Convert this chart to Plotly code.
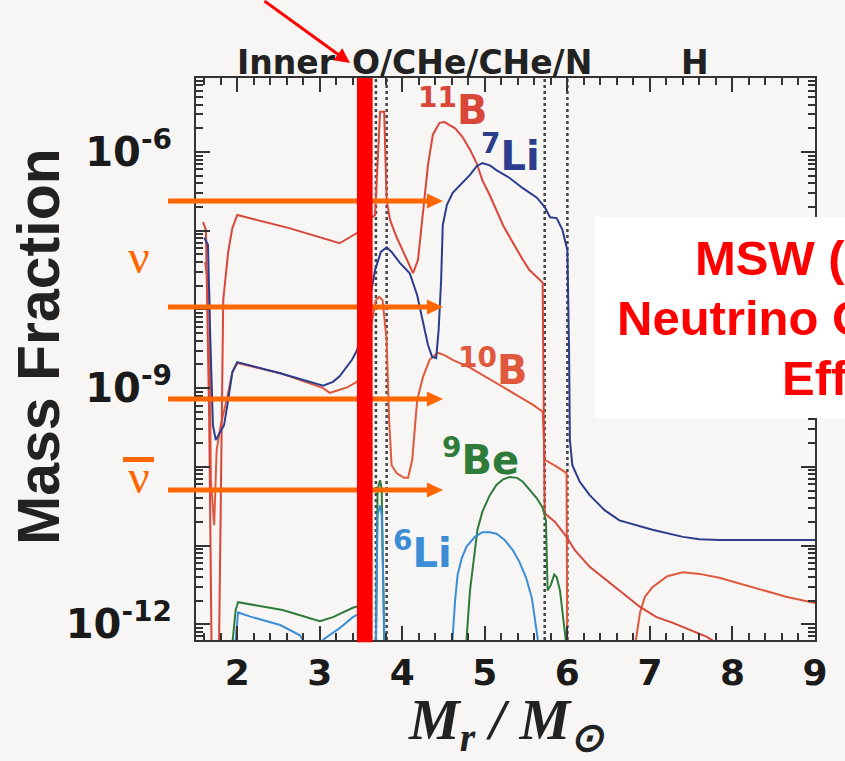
import numpy as np
import plotly.graph_objects as go

# ---- abundance profiles: mass coordinate (M_r / M_sun) and log10 mass fraction ----
b11_m = [1.585, 1.62, 1.66, 1.69, 1.74, 1.77, 1.78, 1.80, 1.83, 1.89,
         1.94, 2.00, 2.64, 3.24, 3.45, 3.56, 3.67, 3.73, 3.78, 3.81,
         3.85, 3.93, 4.05, 4.13, 4.19, 4.22, 4.26, 4.31, 4.37, 4.45,
         4.51, 4.64, 4.73, 4.82, 4.90, 4.97, 5.06, 5.14, 5.22, 5.30,
         5.39, 5.46, 5.54, 5.63, 5.70, 5.725, 5.85, 5.99, 6.09, 6.27,
         6.43, 6.63, 6.88, 7.08, 7.27, 7.48, 7.69, 7.84]
b11_log = [-6.89, -6.99, -9.41, -12.45, -13.0, -12.96, -12.2, -10.17, -7.88, -7.27,
           -6.97, -6.80, -6.97, -7.16, -7.03, -6.89, -6.80, -5.49, -5.49, -6.61,
           -6.86, -7.08, -7.37, -7.54, -7.37, -7.08, -6.61, -6.17, -5.78, -5.63,
           -5.62, -5.70, -5.81, -5.97, -6.14, -6.36, -6.55, -6.74, -6.93, -7.08,
           -7.25, -7.37, -7.50, -7.59, -7.66, -10.59, -10.70, -10.89, -11.06, -11.27,
           -11.40, -11.57, -11.78, -11.91, -11.98, -12.07, -12.16, -12.26]

li7_m = [1.60, 1.645, 1.67, 1.705, 1.74, 1.79, 1.84, 1.89, 1.94, 2.00,
         2.52, 3.04, 3.16, 3.24, 3.33, 3.39, 3.45, 3.56, 3.67, 3.74,
         3.81, 3.87, 3.97, 4.09, 4.18, 4.25, 4.31, 4.36, 4.41, 4.44,
         4.47, 4.49, 4.54, 4.61, 4.73, 4.82, 4.90, 4.97, 5.06, 5.14,
         5.30, 5.46, 5.63, 5.725, 5.79, 5.87, 5.94, 6.00, 6.02, 6.03,
         6.06, 6.15, 6.27, 6.45, 6.63, 7.03, 7.40, 7.60, 7.84, 9.0]
li7_log = [-7.09, -7.18, -8.26, -9.47, -9.66, -9.56, -9.47, -9.15, -8.80, -8.67,
           -8.81, -8.97, -8.92, -8.85, -8.73, -8.64, -8.52, -8.13, -7.50, -7.27,
           -7.21, -7.27, -7.41, -7.54, -7.82, -8.17, -8.45, -8.60, -8.62, -8.26,
           -7.63, -6.93, -6.67, -6.52, -6.39, -6.29, -6.18, -6.14, -6.17, -6.23,
           -6.33, -6.46, -6.58, -6.70, -6.83, -6.84, -6.99, -7.25, -8.52, -9.66,
           -9.98, -10.19, -10.36, -10.55, -10.68, -10.80, -10.89, -10.92, -10.93, -10.93]

b10_m = [1.61, 1.66, 1.68, 1.72, 1.75, 1.80, 1.875, 1.94, 2.00, 2.52,
         3.04, 3.12, 3.24, 3.33, 3.45, 3.51, 3.68, 3.72, 3.76, 3.81,
         3.84, 3.87, 3.93, 4.02, 4.07, 4.12, 4.18, 4.25, 4.33, 4.43,
         4.51, 4.61, 4.82, 5.02, 5.22, 5.42, 5.58, 5.70, 5.725, 5.86,
         5.99, 6.00, 6.79, 6.83, 6.88, 6.94, 7.03, 7.21, 7.40, 7.60,
         7.84, 8.24, 8.65, 9.0]
b10_log = [-7.40, -7.75, -10.17, -10.74, -9.79, -9.47, -9.13, -8.80, -8.68, -8.81,
           -9.00, -9.06, -9.02, -8.99, -8.92, -8.83, -7.88, -7.84, -7.88, -8.39,
           -9.41, -9.98, -10.08, -10.14, -10.14, -9.91, -9.15, -8.86, -8.64, -8.55,
           -8.58, -8.64, -8.74, -8.86, -8.99, -9.11, -9.21, -9.30, -9.91, -9.99,
           -10.08, -12.96, -12.96, -12.2, -11.85, -11.65, -11.53, -11.39, -11.34, -11.36,
           -11.41, -11.53, -11.65, -11.73]

be9_m = [1.92, 1.945, 1.98, 2.01, 2.55, 3.00, 3.16, 3.40, 3.56, 3.64,
         3.68, 3.70, 3.73, 3.75, 3.78, 3.80, 4.74, 4.78, 4.82, 4.87,
         4.91, 4.97, 5.06, 5.14, 5.22, 5.30, 5.39, 5.46, 5.54, 5.63,
         5.70, 5.74, 5.76, 5.80, 5.84, 5.87, 5.91, 5.94, 5.98, 6.00]
be9_log = [-12.96, -12.2, -11.82, -11.72, -11.82, -11.96, -11.91, -11.79, -11.74, -12.96,
           -12.2, -10.29, -10.17, -10.29, -12.2, -12.96, -12.96, -12.16, -11.57, -11.12,
           -10.80, -10.57, -10.36, -10.23, -10.16, -10.13, -10.14, -10.19, -10.29, -10.40,
           -10.52, -10.68, -11.57, -11.50, -11.37, -11.40, -11.57, -11.82, -12.2, -12.96]

li6_m = [1.97, 1.98, 2.01, 2.15, 2.52, 2.76, 2.83, 2.98, 3.06, 3.24,
         3.40, 3.56, 3.64, 3.68, 3.70, 3.73, 3.75, 3.78, 3.80, 4.575,
         4.61, 4.64, 4.67, 4.72, 4.78, 4.88, 4.97, 5.06, 5.14, 5.24,
         5.34, 5.42, 5.50, 5.57, 5.63, 5.66, 5.70]
li6_log = [-12.96, -12.2, -11.85, -11.90, -12.01, -12.14, -12.26, -12.26, -12.18, -12.05,
           -11.91, -11.82, -12.96, -12.2, -10.61, -10.49, -10.61, -12.2, -12.96, -12.96,
           -12.16, -11.69, -11.37, -11.16, -11.01, -10.89, -10.83, -10.83, -10.85, -10.93,
           -11.06, -11.21, -11.41, -11.67, -12.07, -12.33, -12.96]

# shell boundaries and composition-layer names along the top
shell_edges = [3.68, 3.81, 5.725, 6.00]
layer_names = ["Inner", "O/CHe/CHe/N", "H"]
layer_pos = [1.972, 3.364, 7.541]

# axis ticks
x_ticks = [2, 3, 4, 5, 6, 7, 8, 9]
y_decades = [-12, -11, -10, -9, -8, -7, -6, -5]
y_labelled = [-12, -9, -6]

# isotope labels: (text, colour, left edge in M_r, log10 mass fraction)
iso_labels = [
    ("<sup>11</sup>B", "#d9463a", 4.165, -5.43),
    ("<sup>7</sup>Li", "#2b3d8c", 4.93, -6.01),
    ("<sup>10</sup>B", "#e0583d", 4.65, -8.73),
    ("<sup>9</sup>Be", "#2f7b3a", 4.46, -9.88),
    ("<sup>6</sup>Li", "#3b8ed6", 3.86, -11.06),
]

# caption lines on the right-hand panel: text, left edge (px), row centre (px)
msw_lines = ["MSW (Matter)", "Neutrino Oscillation", "Effect"]
msw_left = [693, 615, 780]
msw_rows = [258, 318, 378]

# neutrino-process arrow heights (paper fraction) and the MSW resonance position
arrow_rows = [0.7811, 0.5925, 0.4288, 0.2669]
msw_edges = [3.45, 3.64]

W, H = 845, 761
L, R, T, B = 196, 30, 78, 121
PW, PH = W - L - R, H - T - B


def px(x):
    return (x - L) / PW


def py(y):
    return (H - B - y) / PH


fig = go.Figure()
series = [
    (b10_m, b10_log, "#e0583d"),
    (b11_m, b11_log, "#d9463a"),
    (be9_m, be9_log, "#2f7b3a"),
    (li6_m, li6_log, "#3b8ed6"),
    (li7_m, li7_log, "#2b3d8c"),
]
for m, lg, col in series:
    fig.add_trace(go.Scatter(x=m, y=10 ** np.array(lg), mode="lines",
                             line=dict(color=col, width=2), hoverinfo="skip"))

shapes = []
for e in shell_edges:
    shapes.append(dict(type="line", xref="x", yref="paper", x0=e, x1=e, y0=0, y1=1,
                       line=dict(color="#444444", width=2.5, dash="dot"), layer="below"))

orange = "#ff6600"
tail_x, tip_x, head_len, head_half = px(168), px(443), 16 / PW, 7.5 / PH
for yr in arrow_rows:
    shapes.append(dict(type="line", xref="paper", yref="paper",
                       x0=tail_x, x1=tip_x - head_len + 0.002, y0=yr, y1=yr,
                       line=dict(color=orange, width=5)))
    shapes.append(dict(type="path", xref="paper", yref="paper",
                       path=f"M {tip_x} {yr} L {tip_x - head_len} {yr + head_half} "
                            f"L {tip_x - head_len} {yr - head_half} Z",
                       fillcolor=orange, line=dict(width=0)))

# thick marker of the MSW resonance layer
shapes.append(dict(type="rect", xref="x", yref="paper", x0=msw_edges[0], x1=msw_edges[1],
                   y0=-0.004, y1=1.0, fillcolor="#ff0000", line=dict(width=0)))

# bar over the anti-neutrino symbol
shapes.append(dict(type="line", xref="paper", yref="paper", x0=px(123), x1=px(154),
                   y0=py(459.5), y1=py(459.5), line=dict(color=orange, width=5)))

# white panel behind the MSW caption
shapes.append(dict(type="rect", xref="paper", yref="paper", x0=px(595), x1=1.3,
                   y0=py(418), y1=py(217), fillcolor="white", line=dict(width=0)))

ann = []
dark = "#222222"
for name, pos in zip(layer_names, layer_pos):
    ann.append(dict(x=pos, y=py(63), xref="x", yref="paper", text=name, showarrow=False,
                    xanchor="center" if name == "H" else "left", yanchor="middle",
                    font=dict(family="DejaVu Sans", size=33, color=dark, weight="bold")))

for txt, col, xm, ly in iso_labels:
    ann.append(dict(x=xm, y=ly, xref="x", yref="y", text=txt, showarrow=False,
                    xanchor="left", yanchor="middle",
                    font=dict(family="DejaVu Sans", size=40, color=col, weight="bold")))

ann.append(dict(x=px(39), y=py(347), xref="paper", yref="paper", text="Mass Fraction",
                textangle=-90, showarrow=False, xanchor="center", yanchor="middle",
                font=dict(family="Liberation Sans", size=59, color=dark, weight="bold")))

ann.append(dict(x=px(506), y=py(724), xref="paper", yref="paper",
                text="<i>M<sub>r</sub> / M<sub>⊙</sub></i>", showarrow=False,
                xanchor="center", yanchor="middle",
                font=dict(family="Liberation Serif", size=57, color=dark, weight="bold")))

ann.append(dict(x=px(139), y=py(256), xref="paper", yref="paper", text="ν", showarrow=False,
                xanchor="center", yanchor="middle",
                font=dict(family="Liberation Serif", size=48, color=orange)))
ann.append(dict(x=px(139), y=py(476), xref="paper", yref="paper", text="ν", showarrow=False,
                xanchor="center", yanchor="middle",
                font=dict(family="Liberation Serif", size=48, color=orange)))

ann.append(dict(x=px(350), y=py(63), xref="paper", yref="paper", text="", showarrow=True,
                ax=-87, ay=-63, arrowhead=2, arrowsize=1.0, arrowwidth=3,
                arrowcolor="#ff0000", standoff=0))

for line_txt, left, row in zip(msw_lines, msw_left, msw_rows):
    ann.append(dict(x=px(left), y=py(row), xref="paper", yref="paper",
                    text=line_txt, showarrow=False,
                    xanchor="left", yanchor="middle", align="left",
                    font=dict(family="Liberation Sans", size=49, color="#ff0000",
                              weight="bold")))

tick_font = dict(family="DejaVu Sans", size=36, color="#1a1a1a", weight="bold")
y_tick_font = dict(family="DejaVu Sans", size=40, color="#1a1a1a", weight="bold")
fig.update_layout(
    width=W, height=H,
    margin=dict(l=L, r=R, t=T, b=B, pad=0),
    paper_bgcolor="#f7f6f4", plot_bgcolor="#f7f6f4",
    showlegend=False,
    shapes=shapes, annotations=ann,
    xaxis=dict(range=[1.5, 9], tickmode="array", tickvals=x_ticks,
               ticktext=[str(v) for v in x_ticks], tickfont=tick_font,
               ticks="inside", ticklen=14, tickwidth=2, tickcolor="#333333",
               showline=True, linecolor="#333333", linewidth=2, mirror="ticks",
               showgrid=False, zeroline=False, ticklabelstandoff=0,
               minor=dict(ticks="inside", dtick=0.2, ticklen=7, tickwidth=1.5,
                          tickcolor="#333333", showgrid=False)),
    yaxis=dict(type="log", range=[-12.2, -5.06], tickmode="array",
               tickvals=[10.0 ** d for d in y_decades],
               ticktext=[f"10<sup>{d}</sup>" if d in y_labelled else "" for d in y_decades],
               tickfont=y_tick_font,
               ticks="inside", ticklen=14, tickwidth=2, tickcolor="#333333",
               showline=True, linecolor="#333333", linewidth=2, mirror="ticks",
               showgrid=False, zeroline=False, ticklabelstandoff=14,
               minor=dict(ticks="inside", dtick="D1", ticklen=7, tickwidth=1.5,
                          tickcolor="#333333", showgrid=False)),
)

fig.write_html("out.html")
